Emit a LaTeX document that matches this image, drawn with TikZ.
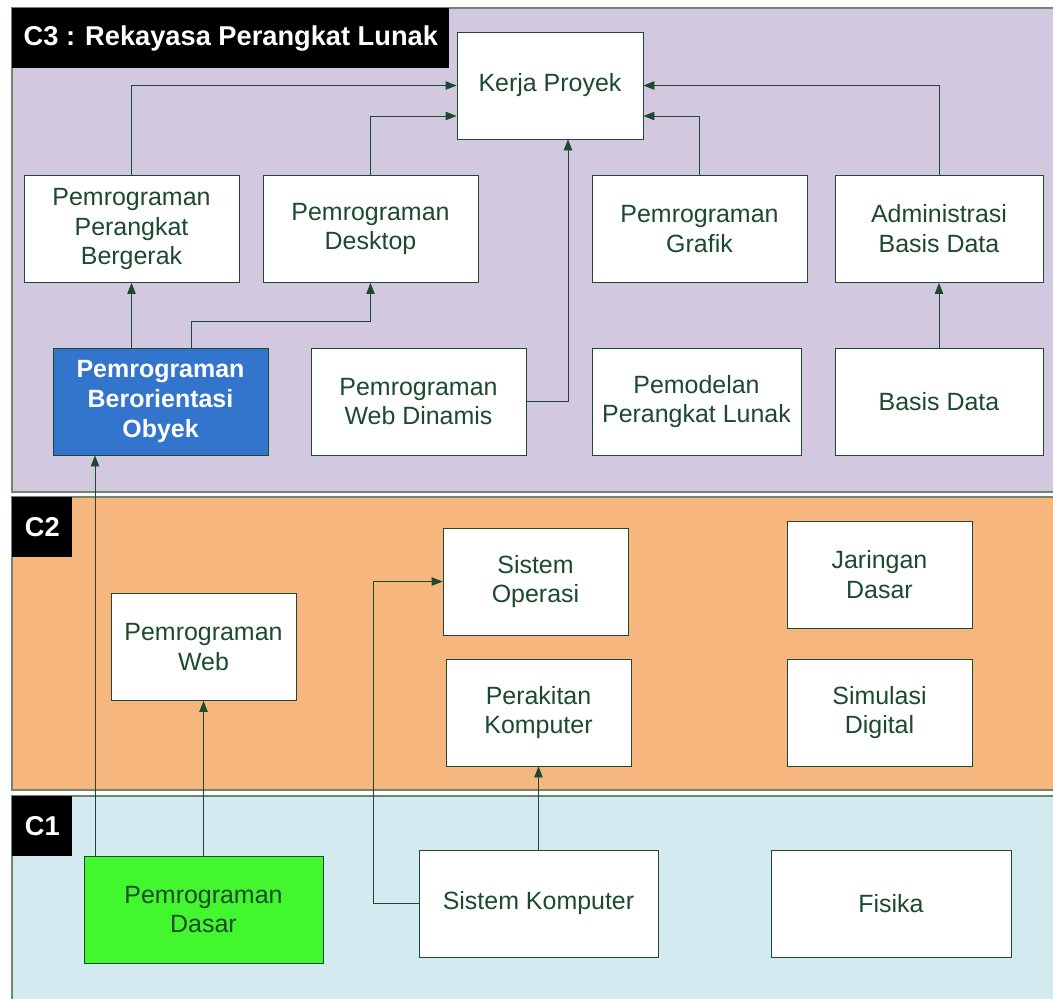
\documentclass[tikz,border=0pt]{standalone}
\usepackage{fontspec}
\setmainfont{Liberation Sans}
\usetikzlibrary{calc,positioning,arrows.meta}

\definecolor{cthreefill}{RGB}{210,201,224}
\definecolor{ctwofill}{RGB}{247,182,126}
\definecolor{conefill}{RGB}{211,234,240}
\definecolor{oopfill}{RGB}{51,117,204}
\definecolor{basicfill}{RGB}{66,247,46}
\definecolor{linegreen}{RGB}{28,74,46}
\definecolor{panelline}{RGB}{110,135,110}

\newcommand{\boxfont}{\fontsize{14.2}{17}\selectfont}
\newcommand{\tagfont}{\bfseries\fontsize{15.5}{18}\selectfont}

\tikzset{
  box/.style={draw=linegreen, line width=0.5pt, fill=white, align=center,
    text=linegreen, inner sep=0pt, minimum height=2.14cm, font=\boxfont},
  arr/.style={draw=linegreen, line width=0.5pt, -{Triangle[length=2.2mm,width=1.7mm]}},
  panel/.style={draw=panelline, line width=0.6pt},
  tag/.style={fill=black, text=white, font=\tagfont, inner sep=0pt,
    minimum height=1.2cm, anchor=north west}
}

\begin{document}
\begin{tikzpicture}[x=0.2mm,y=-0.2mm]

\useasboundingbox (0,0) rectangle (1053,998);
\clip (0,0) rectangle (1053,998);
\fill[white] (0,0) rectangle (1053,998);

%levels
\draw[panel,fill=cthreefill] (12,8) rectangle (1070,492);
\draw[panel,fill=ctwofill] (12,497) rectangle (1070,790);
\draw[panel,fill=conefill] (12,796) rectangle (1070,1010);
\node[tag,minimum width=8.74cm,inner xsep=0.2cm] (c3tag) at (12,8) {C3 : Rekayasa Perangkat Lunak};
\node[tag,minimum width=1.2cm] (c2tag) at (12,497) {C2};
\node[tag,minimum width=1.2cm] (c1tag) at (12,796) {C1};

%C3
\node[box,minimum width=3.72cm] (kerja) at (550,85.5) {Kerja Proyek};
\node[box,minimum width=4.3cm] (bergerak) at (131.5,229) {Pemrograman\\Perangkat\\Bergerak};
\node[box,minimum width=4.3cm] (desktop) at (370.5,229) {Pemrograman\\Desktop};
\node[box,minimum width=4.3cm] (grafik) at (699.5,229) {Pemrograman\\Grafik};
\node[box,minimum width=4.16cm] (admin) at (939,229) {Administrasi\\Basis Data};
\node[box,minimum width=4.3cm,fill=oopfill,text=white,font=\boxfont\bfseries] (pbo) at (160.5,401.5) {Pemrograman\\Berorientasi\\Obyek};
\node[box,minimum width=4.3cm] (dinamis) at (418.5,401.5) {Pemrograman\\Web Dinamis};
\node[box,minimum width=4.18cm] (pemodelan) at (696.5,401.5) {Pemodelan\\Perangkat Lunak};
\node[box,minimum width=4.16cm] (basis) at (939,401.5) {Basis Data};

%C2
\node[box,minimum width=3.7cm] (sysop) at (535.5,581.5) {Sistem\\Operasi};
\node[box,minimum width=3.7cm] (jaringan) at (879.5,575) {Jaringan\\Dasar};
\node[box,minimum width=3.7cm] (pweb) at (203.5,647) {Pemrograman\\Web};
\node[box,minimum width=3.7cm] (perakitan) at (538.5,712.5) {Perakitan\\Komputer};
\node[box,minimum width=3.7cm] (simulasi) at (879.5,712.5) {Simulasi\\Digital};

%C1
\node[box,minimum width=4.78cm,fill=basicfill] (dasar) at (203.5,909.5) {Pemrograman\\Dasar};
\node[box,minimum width=4.78cm] (syskomp) at (538.5,903.5) {Sistem Komputer};
\node[box,minimum width=4.8cm] (fisika) at (891,903.5) {Fisika};

%prerequisites
\draw[arr] (bergerak.north) |- (kerja.west);
\draw[arr] (desktop.north) |- ([yshift=-0.61cm]kerja.west);
\draw[arr] (dinamis.east) -| ([xshift=0.36cm]kerja.south);
\draw[arr] (grafik.north) |- ([yshift=-0.61cm]kerja.east);
\draw[arr] (admin.north) |- (kerja.east);
\draw[arr] (basis) -- (admin);
\draw[arr] (pbo.north -| bergerak.south) -- (bergerak.south);
\draw[arr] ([xshift=0.61cm]pbo.north) -- ++(0,-26) -| (desktop.south);
\coordinate (oopin) at ([xshift=-1.31cm]pbo.south);
\draw[arr] (oopin |- dasar.north) -- (oopin);
\draw[arr] (dasar.north) -- (pweb.south);
\draw[arr] (syskomp.west) -- ++(-45,0) |- (sysop.west);
\draw[arr] (syskomp.north) -- (perakitan.south);

\end{tikzpicture}
\end{document}
